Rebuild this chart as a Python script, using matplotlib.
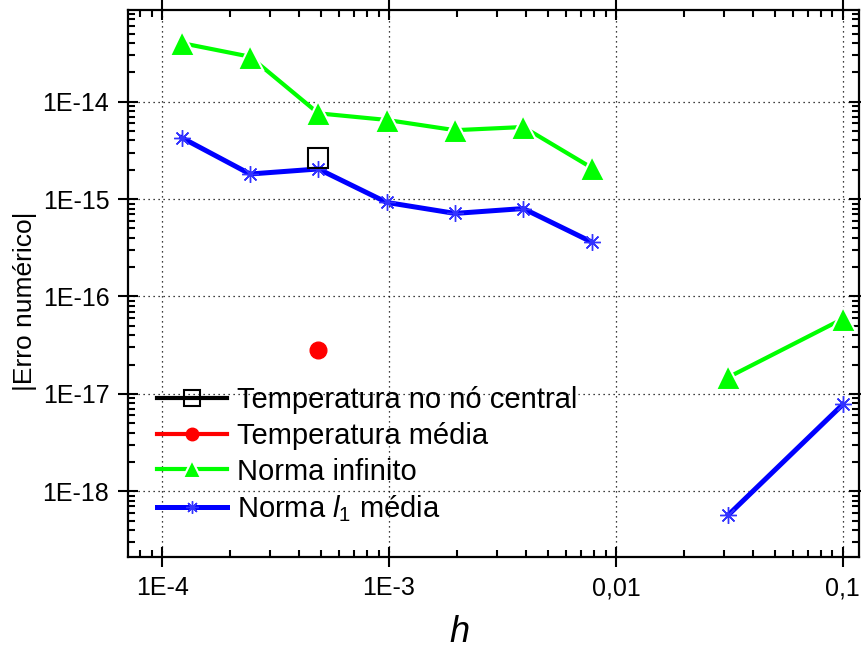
import matplotlib
matplotlib.use('Agg')
import matplotlib.pyplot as plt
import numpy as np
from matplotlib.ticker import FixedLocator, FuncFormatter, LogLocator, NullFormatter

plt.rcParams['font.family'] = ['Liberation Sans', 'DejaVu Sans']
plt.rcParams['mathtext.fontset'] = 'custom'
plt.rcParams['mathtext.rm'] = 'Liberation Sans'
plt.rcParams['mathtext.it'] = 'Liberation Sans:italic'

# h values (NaN at 1/64 leaves the gap in the curves)
h = [1/8192, 1/4096, 1/2048, 1/1024, 1/512, 1/256, 1/128, 1/64, 1/32, 0.1]
norma_inf = [4.0e-14, 2.9e-14, 7.6e-15, 6.5e-15, 5.1e-15, 5.5e-15, 2.1e-15, np.nan, 1.48e-17, 5.9e-17]
norma_l1 = [4.27e-15, 1.81e-15, 2.04e-15, 9.25e-16, 7.13e-16, 8.0e-16, 3.63e-16, np.nan, 5.7e-19, 7.8e-18]
h_central = [1/2048]
temp_central = [2.66e-15]
h_media = [1/2048]
temp_media = [2.8e-17]

xticks = [1e-4, 1e-3, 1e-2, 1e-1]
xticklabels = ['1E-4', '1E-3', '0,01', '0,1']
yticks = [1e-18, 1e-17, 1e-16, 1e-15, 1e-14]
yticklabels = ['1E-18', '1E-17', '1E-16', '1E-15', '1E-14']

fig = plt.figure(figsize=(8.61, 6.48), dpi=100)
ax = fig.add_axes([0.1487, 0.14, 0.8487, 0.8446])

ax.plot(h_central, temp_central, '-', color='black', lw=3, marker='s', ms=15,
        mfc='none', mec='black', mew=1.5, label='Temperatura no nó central', zorder=5)
ax.plot(h_media, temp_media, '-', color='red', lw=3, marker='o', ms=12,
        mfc='red', mec='red', label='Temperatura média', zorder=5)
ax.plot(h, norma_inf, '-', color='#00ff00', lw=3, marker='^', ms=18,
        mfc='#00ff00', mec='white', mew=1.5, label='Norma infinito', zorder=3)
ax.plot(h, norma_l1, '-', color='#0000ff', lw=3.6, marker=(8, 2, 0), ms=12,
        mec='#3333ff', mew=1.0, label='Norma $\\mathit{l}_1$ média', zorder=4)

ax.set_xscale('log')
ax.set_yscale('log')
ax.set_xlim(7.08e-5, 0.1175)
ax.set_ylim(2.1e-19, 8.75e-14)

ax.set_xticks(xticks)
ax.set_xticklabels(xticklabels, fontsize=18)
ax.set_yticks(yticks)
ax.set_yticklabels(yticklabels, fontsize=18)
ax.xaxis.set_minor_locator(LogLocator(base=10, subs=np.arange(2, 10), numticks=20))
ax.yaxis.set_minor_locator(LogLocator(base=10, subs=np.arange(2, 10), numticks=20))
ax.xaxis.set_minor_formatter(NullFormatter())
ax.yaxis.set_minor_formatter(NullFormatter())

ax.tick_params(which='both', top=True, right=True, width=1.5)
ax.tick_params(which='major', direction='inout', length=15, pad=6)
ax.tick_params(which='minor', direction='in', length=5)
for s in ax.spines.values():
    s.set_linewidth(1.6)

ax.grid(True, which='major', color='black', linestyle=(0, (1, 3)), lw=0.9)

ax.set_xlabel('$h$', fontsize=26)
ax.set_ylabel('|Erro numérico|', fontsize=19)
ax.xaxis.set_label_coords(0.453, -0.105)
ax.yaxis.set_label_coords(-0.125, 0.468)

ax.legend(loc='lower left', bbox_to_anchor=(0.04, 0.061), frameon=False, fontsize=21,
          handlelength=2.4, handletextpad=0.35, labelspacing=0.26, markerscale=0.75,
          borderaxespad=0, borderpad=0)

fig.savefig('out.png', dpi=100)
